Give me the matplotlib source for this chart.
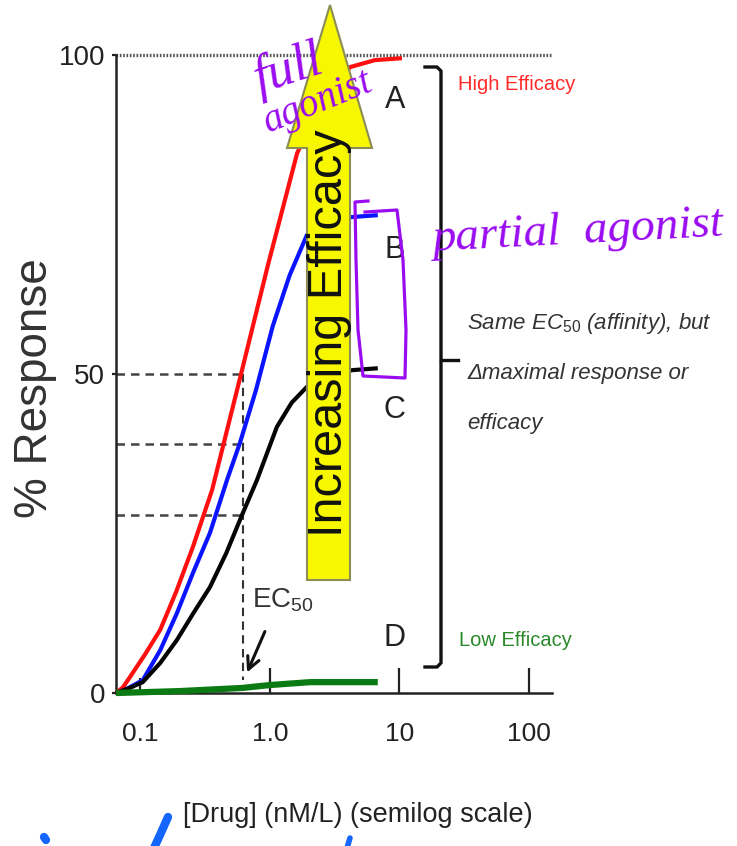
import matplotlib
matplotlib.use("Agg")
import matplotlib.pyplot as plt
from matplotlib.patches import Polygon
from matplotlib.lines import Line2D

# dose-response curves (dose in nM/L, response in %)
dose_a = [0.0647, 0.0733, 0.0829, 0.108, 0.142, 0.188, 0.254, 0.357, 0.608, 0.965,
          1.62, 2.43, 4.15, 6.47, 10.45]
resp_a = [0, 0.9, 2.5, 6.0, 9.9, 15.8, 22.9, 31.8, 50.6, 67.1, 84.6, 92.2, 98.1, 99.2, 99.5]

dose_b = [0.0647, 0.076, 0.104, 0.142, 0.191, 0.254, 0.344, 0.466, 0.586, 0.78, 1.05,
          1.42, 1.93, 2.9, 4.3, 6.8]
resp_b = [0, 0.5, 2.0, 6.7, 12.5, 18.8, 25.1, 33.4, 39.2, 47.5, 57.5, 65.5, 71.8, 74.1,
          74.6, 74.9]

dose_c = [0.0647, 0.0829, 0.104, 0.142, 0.191, 0.254, 0.344, 0.459, 0.608, 0.794, 1.13,
          1.47, 1.93, 2.9, 4.3, 6.8]
resp_c = [0, 0.8, 1.7, 4.7, 8.3, 12.4, 16.6, 21.9, 27.9, 33.4, 41.7, 45.5, 48.0, 49.7,
          50.6, 50.9]

dose_d = [0.0647, 0.202, 0.618, 1.0, 2.04, 6.8]
resp_d = [0, 0.3, 0.8, 1.25, 1.7, 1.7]

ec50 = 0.62
half_max = [50.0, 39.0, 27.9]

x_ticks = [1, 10, 100]
x_labels = ["1.0", "10", "100"]
y_ticks = [0, 50, 100]
letters = ["A", "B", "C", "D"]
letter_y = [92.9, 69.4, 44.4, 8.6]

W, H = 737, 846
SANS = ["Liberation Sans", "DejaVu Sans"]
HAND = ["Liberation Serif", "DejaVu Serif"]
PURPLE = "#9a0cf0"

plt.rcParams["font.family"] = SANS
plt.rcParams["mathtext.fontset"] = "custom"
plt.rcParams["mathtext.rm"] = "Liberation Sans"
plt.rcParams["mathtext.it"] = "Liberation Sans:italic"


def fp(px, py):
    # pixel position in the picture -> figure fraction
    return (px / W, 1 - py / H)


fig = plt.figure(figsize=(W / 100, H / 100), dpi=100)
ax = fig.add_axes([116 / W, 1 - 693 / H, (552 - 116) / W, (693 - 55) / H])
ax.set_xscale("log")
ax.set_xlim(0.0647, 150.6)
ax.set_ylim(0, 100)

kw = dict(solid_joinstyle="round", solid_capstyle="butt", clip_on=False)
ax.plot(dose_a, resp_a, color="#ff1010", lw=3.0, zorder=3, **kw)
ax.plot(dose_b, resp_b, color="#0a14ff", lw=3.0, zorder=3, **kw)
ax.plot(dose_c, resp_c, color="#050505", lw=3.0, zorder=3, **kw)
ax.plot(dose_d, resp_d, color="#0b7a12", lw=4.5, zorder=4, **kw)

for h in half_max:
    ax.plot([ax.get_xlim()[0], ec50], [h, h], color="#444444", lw=1.8,
            linestyle=(0, (3.4, 2.4)), zorder=2)
ax.plot([ec50, ec50], [50, 2], color="#333333", lw=1.5, linestyle=(0, (4, 2.6)), zorder=2)
ax.axhline(100, color="#555555", lw=2.4, linestyle=(0, (0.5, 0.5)), zorder=1, clip_on=False)

for s in ["top", "right"]:
    ax.spines[s].set_visible(False)
for s in ["left", "bottom"]:
    ax.spines[s].set_linewidth(1.8)
    ax.spines[s].set_color("#222222")

ax.set_xticks(x_ticks)
ax.set_xticklabels(x_labels)
ax.set_xticks([0.1], minor=True)
ax.set_xticklabels(["0.1"], minor=True)
ax.tick_params(axis="x", which="major", direction="in", length=18, width=1.6,
               color="#222222", labelsize=19, pad=21, labelcolor="#222222")
ax.tick_params(axis="x", which="minor", direction="in", length=11, width=1.6,
               color="#222222", labelsize=19, pad=21, labelcolor="#222222")
ax.set_yticks(y_ticks)
ax.tick_params(axis="y", direction="out", length=3, width=1.6, color="#222222",
               labelsize=20, pad=5, labelcolor="#222222")

fig.text(*fp(35, 388), "% Response", rotation=90, ha="center", va="center",
         fontsize=33, color="#333333")
fig.text(*fp(358, 815), "[Drug] (nM/L) (semilog scale)", ha="center", va="center",
         fontsize=19.5, color="#222222")

# big yellow arrow
arrow = Polygon([fp(307, 580), fp(307, 148), fp(287, 148), fp(330, 5), fp(372, 148),
                 fp(350, 148), fp(350, 580)], closed=True, transform=fig.transFigure,
                facecolor="#f7f700", edgecolor="#8c8c55", lw=1.5, zorder=1)
fig.patches.append(arrow)
fig.text(*fp(329, 333), "Increasing Efficacy", rotation=90, ha="center", va="center",
         fontsize=35, color="#111111", zorder=4)

for lab, ly in zip(letters, letter_y):
    ax.text(9.2, ly, lab, ha="center", va="center", fontsize=22, color="#222222",
            clip_on=False)

# bracket
fig.add_artist(Line2D(*zip(fp(425, 67), fp(437, 67), fp(441, 71), fp(441, 663),
                           fp(437, 667), fp(425, 667)),
                      transform=fig.transFigure, color="#111111", lw=2.4))
fig.add_artist(Line2D(*zip(fp(441, 360), fp(458, 360)), transform=fig.transFigure,
                      color="#111111", lw=2.4))

fig.text(*fp(517, 85), "High Efficacy", ha="center", va="center", fontsize=14.5,
         color="#ff2a2a")
fig.text(*fp(515, 640), "Low Efficacy", ha="center", va="center", fontsize=14.5,
         color="#2a8a2a")
fig.text(*fp(467, 323), "Same EC$_{50}$ (affinity), but", ha="left", va="center",
         fontsize=16, style="italic", color="#333333")
fig.text(*fp(467, 373), "\u0394maximal response or", ha="left", va="center",
         fontsize=16, style="italic", color="#333333")
fig.text(*fp(467, 423), "efficacy", ha="left", va="center",
         fontsize=16, style="italic", color="#333333")

# EC50 label and arrow
fig.text(*fp(252, 600), "EC$_{50}$", ha="left", va="center", fontsize=20, color="#333333")
ax.annotate("", xy=fp(246, 675), xytext=fp(266, 629), xycoords="figure fraction",
            textcoords="figure fraction",
            arrowprops=dict(arrowstyle="->", lw=2.2, color="#111111",
                            mutation_scale=22))

# handwritten notes
fig.text(*fp(288, 70), "full", rotation=18, ha="center", va="center", fontsize=38,
         color=PURPLE, family=HAND, style="italic", zorder=5)
fig.text(*fp(318, 102), "agonist", rotation=22, ha="center", va="center", fontsize=28,
         color=PURPLE, family=HAND, style="italic", zorder=5)
fig.text(*fp(578, 232), "partial  agonist", rotation=3, ha="center", va="center",
         fontsize=34, color=PURPLE, family=HAND, style="italic", zorder=5)
fig.add_artist(Line2D(*zip(fp(368, 201), fp(355, 202), fp(356, 260), fp(358, 330),
                           fp(363, 376), fp(405, 378), fp(406, 330), fp(403, 260),
                           fp(397, 210), fp(365, 212)),
                      transform=fig.transFigure, color=PURPLE, lw=2.3,
                      solid_joinstyle="round", zorder=5))

# blue pen marks along the bottom edge
fig.add_artist(Line2D(*zip(fp(44, 837), fp(46, 840)), transform=fig.transFigure,
                      color="#1565ff", lw=6, solid_capstyle="round"))
fig.add_artist(Line2D(*zip(fp(168, 817), fp(160, 835), fp(154, 848)),
                      transform=fig.transFigure, color="#1565ff", lw=6,
                      solid_capstyle="round"))
fig.add_artist(Line2D(*zip(fp(350, 838), fp(347, 848)), transform=fig.transFigure,
                      color="#1565ff", lw=4, solid_capstyle="round"))

fig.savefig("out.png", dpi=100, facecolor="white")
